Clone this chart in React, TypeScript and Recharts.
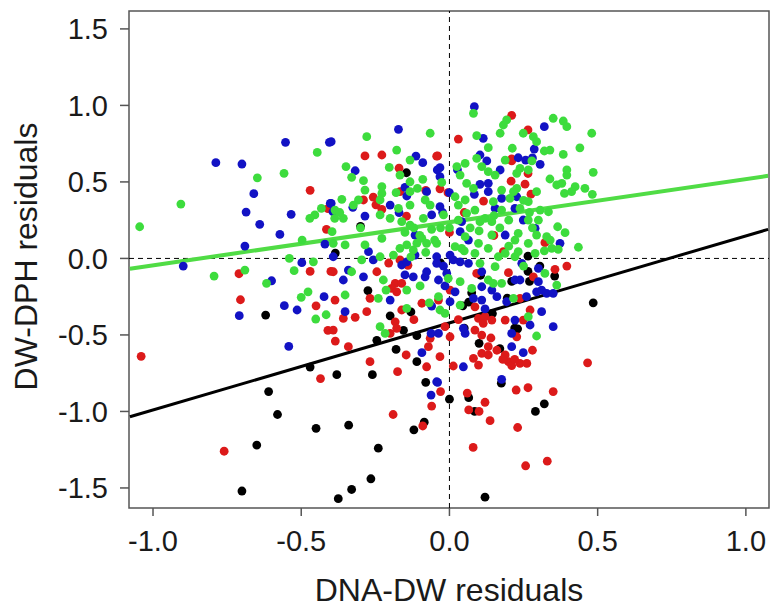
import React from 'react';
import { ScatterChart, Scatter, XAxis, YAxis, ReferenceLine, ReferenceArea, Label } from 'recharts';

// axis ranges (R pads data range by 4%)
const X_DOMAIN = [-1.081, 1.078];
const Y_DOMAIN = [-1.631, 1.617];
const X_TICKS = [-1, -0.5, 0, 0.5, 1];
const Y_TICKS = [-1.5, -1, -0.5, 0, 0.5, 1, 1.5];

// residual pairs [DNA-DW, DW-DPH] per group
const blackPts = [
  [-0.47, -0.71], [-0.38, -0.76], [-0.61, -0.87], [-0.58, -1.02], [-0.45, -1.11], [-0.65, -1.22],
  [-0.7, -1.52], [-0.375, -1.57], [-0.62, -0.37], [-0.26, -0.76], [-0.08, -0.81], [-0.085, -1.07],
  [-0.12, -1.12], [-0.34, -1.09], [-0.24, -1.24], [-0.265, -1.44], [-0.33, -1.51], [0.0, -0.92],
  [0.065, -0.91], [0.085, -1.0], [0.12, -1.56], [0.175, -0.815], [0.29, -1.0], [0.32, -0.95],
  [0.485, -0.29], [0.355, -0.115], [0.265, -0.085], [0.27, -0.15], [0.23, -0.46], [-0.3, 0.21],
  [-0.145, 0.56], [-0.385, 0.035], [-0.275, -0.21], [-0.2, -0.375], [-0.13, -0.35], [-0.155, -0.47],
  [-0.245, -0.535], [-0.11, -0.505], [-0.18, -0.595], [-0.11, -0.675], [-0.03, -0.03], [0.065, -0.285],
  [0.105, -0.11], [0.21, -0.15], [0.1, -0.555], [0.17, -0.59], [0.05, -0.455], [0.22, -0.455],
  [0.265, 0.015], [0.305, -0.05], [0.075, -0.225], [0.145, -0.36], [0.195, -0.26], [0.045, -0.31],
];

const redPts = [
  [-0.47, 0.445], [-0.41, 0.325], [-0.415, 0.19], [-0.71, -0.1], [-0.47, -0.085], [-0.4, -0.085],
  [-0.705, -0.27], [-0.45, -0.31], [-0.41, -0.47], [-0.385, -0.54], [-1.04, -0.64], [-0.435, -0.785],
  [-0.76, -1.26], [-0.175, -0.74], [-0.06, -0.965], [-0.19, -1.02], [-0.09, -1.095], [0.06, -0.88],
  [0.065, -0.99], [0.1, -1.0], [0.12, -0.94], [0.137, -1.06], [0.23, -1.105], [0.08, -1.235],
  [-0.03, -0.87], [0.225, -0.86], [0.265, -0.845], [0.35, -0.87], [0.257, -1.355], [0.33, -1.325],
  [0.265, 0.84], [0.265, 0.555], [0.255, 0.485], [0.275, 0.42], [0.21, 0.935], [0.03, 0.78],
  [-0.04, 0.67], [0.21, 0.637], [0.208, 0.505], [-0.032, 0.455], [-0.005, 0.43], [0.115, 0.375],
  [-0.285, 0.67], [-0.228, 0.676], [-0.043, 0.668], [-0.17, 0.59], [-0.167, 0.436], [-0.29, 0.382],
  [-0.257, 0.4], [-0.248, 0.35], [-0.228, 0.32], [-0.145, 0.277], [-0.205, -0.03], [-0.167, -0.01],
  [-0.392, -0.087], [-0.245, -0.087], [-0.183, -0.163], [-0.161, -0.163], [-0.195, -0.196], [-0.178, -0.218],
  [-0.386, -0.272], [-0.268, -0.261], [-0.093, -0.293], [-0.358, -0.392], [-0.318, -0.385], [-0.279, -0.348],
  [-0.161, -0.337], [-0.183, -0.414], [-0.178, -0.457], [-0.2, -0.49], [-0.065, -0.522], [-0.392, -0.468],
  [-0.341, -0.577], [-0.146, -0.631], [-0.071, -0.577], [-0.268, -0.675], [-0.077, -0.708], [0.182, 0.044],
  [0.092, -0.098], [0.199, -0.093], [0.002, -0.207], [-0.037, -0.272], [0.086, -0.316], [0.098, -0.392],
  [0.12, -0.381], [0.114, -0.424], [0.143, -0.403], [0.188, -0.403], [0.002, -0.512], [-0.015, -0.446],
  [0.086, -0.468], [0.109, -0.501], [0.131, -0.577], [0.109, -0.62], [0.131, -0.631], [0.081, -0.653],
  [0.188, -0.631], [0.199, -0.675], [-0.032, -0.642], [0.013, -0.703], [0.098, -0.697], [0.322, 0.103],
  [0.356, -0.071], [0.396, -0.05], [0.283, -0.12], [0.238, -0.261], [0.272, -0.337], [0.249, -0.403],
  [0.227, -0.512], [0.238, -0.686], [0.261, -0.686], [0.466, -0.682], [0.21, 0.65], [-0.08, 0.445],
  [-0.14, -0.045], [0.0, 0.17], [0.05, 0.3], [0.15, 0.15], [0.16, -0.6], [0.18, -0.66],
  [0.21, -0.7], [0.22, -0.66], [0.14, -0.52], [-0.12, -0.4], [0.03, -0.4], [0.28, -0.6],
];

const bluePts = [
  [-0.553, 0.759], [-0.405, 0.759], [-0.788, 0.626], [-0.7, 0.617], [-0.66, 0.423], [-0.402, 0.36],
  [-0.686, 0.303], [-0.534, 0.288], [-0.393, 0.305], [-0.64, 0.223], [-0.572, 0.157], [-0.42, 0.094],
  [-0.69, 0.081], [-0.498, -0.028], [-0.898, -0.05], [-0.6, -0.146], [-0.423, -0.25], [-0.557, -0.309],
  [-0.514, -0.337], [-0.709, -0.374], [-0.542, -0.575], [-0.043, -0.806], [-0.062, -0.893], [0.176, -0.79],
  [-0.04, -0.81], [0.32, 0.861], [0.286, 0.715], [0.232, 0.658], [0.257, 0.643], [0.306, 0.615],
  [0.227, 0.403], [0.249, 0.251], [0.289, 0.197], [0.084, 0.992], [0.114, 0.785], [0.103, 0.676],
  [0.126, 0.637], [-0.032, 0.593], [0.171, 0.578], [-0.032, 0.534], [0.103, 0.484], [0.131, 0.491],
  [0.084, 0.419], [0.131, 0.436], [0.176, 0.393], [-0.032, 0.338], [0.154, 0.327], [0.221, 0.327],
  [0.041, 0.24], [-0.172, 0.844], [-0.399, 0.763], [-0.113, 0.669], [-0.09, 0.626], [-0.318, 0.573],
  [-0.15, 0.465], [-0.077, 0.436], [-0.041, 0.578], [-0.144, 0.408], [-0.399, 0.36], [-0.326, 0.334],
  [-0.2, 0.349], [-0.285, 0.277], [-0.06, 0.284], [-0.116, 0.153], [-0.116, 0.022], [-0.392, 0.011],
  [-0.273, 0.044], [-0.257, -0.01], [-0.161, -0.043], [-0.144, -0.022], [-0.043, -0.032], [-0.341, -0.076],
  [-0.15, -0.108], [-0.122, -0.12], [-0.077, -0.087], [-0.358, -0.141], [-0.29, -0.12], [-0.082, -0.12],
  [-0.2, -0.272], [-0.06, -0.311], [-0.352, -0.348], [-0.062, -0.49], [-0.093, -0.616], [0.036, 0.175],
  [0.064, 0.12], [0.188, 0.153], [-0.043, 0.011], [0.013, -0.01], [0.002, 0.022], [0.036, -0.022],
  [0.064, -0.032], [0.109, -0.087], [0.221, -0.141], [-0.037, -0.141], [-0.009, -0.098], [0.109, -0.185],
  [0.143, -0.207], [0.019, -0.218], [0.002, -0.283], [0.081, -0.261], [0.109, -0.272], [0.193, -0.283],
  [0.221, -0.403], [-0.037, -0.49], [0.053, -0.49], [0.047, -0.457], [0.21, -0.577], [0.047, -0.708],
  [0.21, -0.49], [0.373, 0.099], [0.244, -0.032], [0.3, -0.065], [0.238, -0.141], [0.3, -0.152],
  [0.311, -0.207], [0.294, -0.218], [0.328, -0.228], [0.35, -0.228], [0.311, -0.348], [0.272, -0.435],
  [0.35, -0.446], [0.249, -0.616], [0.28, 0.657], [0.027, 0.58], [-0.023, 0.3], [-0.02, -0.05],
  [-0.015, -0.18], [0.12, -0.33], [0.16, -0.25], [0.26, -0.25], [-0.17, 0.3], [0.0, 0.43],
];

const greenPts = [
  [-0.446, 0.693], [-0.558, 0.556], [-0.648, 0.527], [-0.906, 0.355], [-0.432, 0.327], [-0.454, 0.284],
  [-0.471, 0.262], [-0.387, 0.262], [-1.045, 0.207], [-0.396, 0.175], [-0.497, 0.12], [-0.54, 0.0],
  [-0.459, -0.022], [-0.69, -0.076], [-0.524, -0.08], [-0.794, -0.115], [-0.617, -0.163], [-0.477, -0.218],
  [-0.5, -0.254], [-0.451, -0.396], [-0.416, -0.368], [0.35, 0.916], [0.384, 0.898], [0.396, 0.861],
  [0.48, 0.818], [0.249, 0.818], [0.283, 0.796], [0.294, 0.763], [0.32, 0.702], [0.339, 0.708],
  [0.384, 0.68], [0.44, 0.723], [0.278, 0.637], [0.238, 0.589], [0.266, 0.578], [0.485, 0.563],
  [0.396, 0.578], [0.396, 0.545], [0.339, 0.519], [0.362, 0.48], [0.379, 0.491], [0.424, 0.469],
  [0.457, 0.458], [0.412, 0.436], [0.388, 0.425], [0.482, 0.419], [0.227, 0.458], [0.294, 0.436],
  [0.266, 0.371], [0.238, 0.327], [0.306, 0.316], [0.334, 0.305], [0.365, 0.207], [0.266, 0.251],
  [0.081, 0.948], [0.193, 0.905], [0.182, 0.872], [0.171, 0.818], [0.092, 0.802], [0.131, 0.724],
  [0.212, 0.72], [0.092, 0.654], [0.188, 0.643], [0.053, 0.621], [0.025, 0.6], [0.109, 0.6],
  [0.131, 0.567], [0.154, 0.545], [0.036, 0.545], [0.227, 0.556], [0.058, 0.491], [-0.026, 0.497],
  [0.081, 0.458], [0.176, 0.447], [0.216, 0.436], [0.019, 0.403], [0.053, 0.382], [0.204, 0.393],
  [0.148, 0.371], [0.03, 0.349], [0.086, 0.316], [0.176, 0.316], [-0.02, 0.284], [0.058, 0.295],
  [0.12, 0.262], [0.103, 0.24], [0.143, 0.24], [-0.065, 0.818], [-0.279, 0.796], [-0.178, 0.708],
  [-0.133, 0.643], [-0.349, 0.6], [-0.203, 0.595], [-0.167, 0.545], [-0.33, 0.53], [-0.133, 0.501],
  [-0.09, 0.517], [-0.29, 0.508], [-0.228, 0.469], [-0.108, 0.458], [-0.285, 0.447], [-0.133, 0.436],
  [-0.228, 0.425], [-0.363, 0.386], [-0.307, 0.382], [-0.234, 0.382], [-0.082, 0.382], [-0.324, 0.349],
  [-0.172, 0.327], [-0.133, 0.349], [-0.065, 0.349], [-0.386, 0.316], [-0.234, 0.284], [-0.358, 0.262],
  [-0.2, 0.262], [-0.088, 0.262], [-0.161, 0.24], [-0.133, 0.218], [-0.392, 0.099], [-0.352, 0.088],
  [-0.285, 0.088], [-0.228, 0.131], [-0.093, 0.131], [-0.077, 0.099], [-0.144, 0.088], [-0.167, 0.066],
  [-0.122, 0.055], [-0.189, 0.022], [-0.296, -0.01], [-0.234, 0.011], [-0.33, -0.087], [-0.223, -0.141],
  [-0.099, -0.18], [-0.214, -0.207], [-0.144, -0.207], [-0.352, -0.239], [-0.24, -0.261], [-0.068, -0.29],
  [-0.144, -0.326], [-0.234, -0.446], [-0.217, -0.49], [-0.043, 0.099], [0.053, 0.142], [0.098, 0.099],
  [0.143, 0.153], [0.221, 0.12], [0.019, 0.077], [0.041, 0.066], [0.086, 0.033], [0.131, 0.066],
  [0.165, 0.011], [0.188, 0.033], [0.221, 0.011], [0.103, -0.032], [0.154, -0.054], [-0.004, -0.13],
  [0.036, -0.152], [0.131, -0.141], [0.148, -0.163], [0.176, -0.163], [0.075, -0.196], [-0.037, -0.25],
  [0.216, -0.261], [-0.032, -0.337], [-0.015, -0.359], [0.036, -0.305], [0.232, 0.164], [0.294, 0.153],
  [0.328, 0.142], [0.39, 0.168], [0.435, 0.073], [0.345, 0.066], [0.367, 0.059], [0.266, 0.099],
  [0.232, 0.044], [0.289, 0.033], [0.322, -0.098], [0.362, -0.174], [0.266, -0.381], [0.294, -0.507],
  [-0.15, 0.17], [-0.1, 0.15], [-0.06, 0.19], [-0.03, 0.2], [-0.12, 0.2], [-0.05, 0.12],
  [0.0, 0.2], [0.03, 0.25], [0.07, 0.2], [0.1, 0.18], [0.17, 0.2], [0.2, 0.25],
  [0.05, 0.05], [0.27, 0.3], [0.3, 0.25], [0.32, 0.05], [0.25, -0.05], [-0.3, 0.2],
  [-0.37, 0.3], [-0.18, 0.43], [0.15, 0.28], [0.25, 0.38], [-0.11, 0.1], [-0.08, 0.04],
  [-0.13, 0.01], [0.2, 0.08], [0.28, 0.2], [0.34, 0.12],
];

// fitted regression lines, endpoints at the plot edges
const greenFit = [[-1.078, -0.067], [1.075, 0.54]];
const blackFit = [[-1.078, -1.035], [1.075, 0.19]];

const COLORS = { black: '#000000', red: '#dc1a1a', blue: '#1212c4', green: '#3ddc3d', greenLine: '#50dc45' };
const FONT = '"Liberation Sans", Arial, sans-serif';

const toXY = (pts) => pts.map(([x, y]) => ({ x, y }));
const dot = (color) => (props) => <circle cx={props.cx} cy={props.cy} r={4.4} fill={color} />;

const YTitle = ({ viewBox }) => {
  const cx = viewBox.x + 26;
  const cy = viewBox.y + viewBox.height / 2 - 3;
  return (
    <text x={cx} y={cy} transform={`rotate(-90, ${cx}, ${cy})`} textAnchor="middle" dominantBaseline="central"
      fontSize={32} fontFamily={FONT} fill="#1a1a1a">DW-DPH residuals</text>
  );
};

export default function App() {
  const tickStyle = { fontSize: 29, fontFamily: FONT, fill: '#1a1a1a' };
  return (
    <div style={{ position: 'absolute', left: 0, top: 0, width: 771, height: 611, background: '#fff' }}>
      <ScatterChart width={771} height={611} margin={{ top: 11, right: 2, bottom: 0, left: 0 }}>
        <XAxis type="number" dataKey="x" domain={X_DOMAIN} ticks={X_TICKS} allowDataOverflow
          tickFormatter={(v) => v.toFixed(1)} axisLine={false} tickSize={8} tickMargin={14}
          tickLine={{ stroke: '#555', strokeWidth: 1.5 }} tick={tickStyle} height={103} interval={0}>
          <Label value="DNA-DW residuals" position="insideBottom" offset={10}
            style={{ fontSize: 32, fontFamily: FONT, fill: '#1a1a1a' }} />
        </XAxis>
        <YAxis type="number" dataKey="y" domain={Y_DOMAIN} ticks={Y_TICKS} allowDataOverflow
          tickFormatter={(v) => v.toFixed(1)} axisLine={false} tickSize={9} tickMargin={12}
          tickLine={{ stroke: '#555', strokeWidth: 1.5 }} tick={tickStyle} width={129} interval={0}>
          <Label content={YTitle} />
        </YAxis>
        <ReferenceLine x={0} stroke="#000" strokeWidth={1} strokeDasharray="5 4" />
        <ReferenceLine y={0} stroke="#000" strokeWidth={1} strokeDasharray="5 4" />
        <Scatter data={toXY(blackPts)} shape={dot(COLORS.black)} isAnimationActive={false} />
        <Scatter data={toXY(redPts)} shape={dot(COLORS.red)} isAnimationActive={false} />
        <Scatter data={toXY(bluePts)} shape={dot(COLORS.blue)} isAnimationActive={false} />
        <Scatter data={toXY(greenPts)} shape={dot(COLORS.green)} isAnimationActive={false} />
        <ReferenceLine segment={greenFit.map(([x, y]) => ({ x, y }))} stroke={COLORS.greenLine} strokeWidth={4} ifOverflow="hidden" />
        <ReferenceLine segment={blackFit.map(([x, y]) => ({ x, y }))} stroke={COLORS.black} strokeWidth={3} ifOverflow="hidden" />
        <ReferenceArea x1={X_DOMAIN[0]} x2={X_DOMAIN[1]} y1={Y_DOMAIN[0]} y2={Y_DOMAIN[1]}
          fill="none" stroke="#555" strokeWidth={1.5} ifOverflow="visible" />
      </ScatterChart>
    </div>
  );
}
